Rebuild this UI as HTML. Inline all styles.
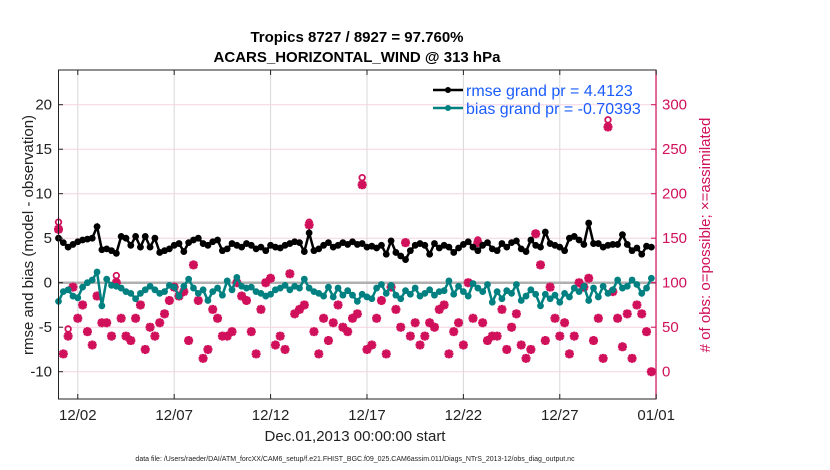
<!DOCTYPE html>
<html><head><meta charset="utf-8"><style>
body{margin:0;background:#fff;}
svg{display:block;font-family:"Liberation Sans",Arial,sans-serif;}
</style></head><body>
<svg id="chart" width="830" height="470" viewBox="0 0 830 470" xmlns="http://www.w3.org/2000/svg">
<g id="grid"></g>
<g id="series"></g>
<rect x="58.5" y="70" width="597.5" height="329" fill="none" stroke="#222" stroke-width="1"/>
<line x1="656" y1="70" x2="656" y2="399" stroke="#d0105a" stroke-width="1.2"/>
<g id="axes"></g>
<text x="357" y="42" text-anchor="middle" font-size="15" font-weight="bold">Tropics 8727 / 8927 = 97.760%</text>
<text x="357" y="62" text-anchor="middle" font-size="15" font-weight="bold">ACARS_HORIZONTAL_WIND @ 313 hPa</text>
<text x="355" y="441" text-anchor="middle" font-size="15" fill="#222">Dec.01,2013 00:00:00 start</text>
<text x="355" y="461" text-anchor="middle" font-size="7" fill="#222">data file: /Users/raeder/DAI/ATM_forcXX/CAM6_setup/f.e21.FHIST_BGC.f09_025.CAM6assim.011/Diags_NTrS_2013-12/obs_diag_output.nc</text>
<text transform="translate(33,235) rotate(-90)" text-anchor="middle" font-size="15" fill="#222">rmse and bias (model - observation)</text>
<text transform="translate(710,235) rotate(-90)" text-anchor="middle" font-size="15" fill="#d0105a"># of obs: o=possible; ×=assimilated</text>
<g>
<line x1="433" y1="90" x2="463" y2="90" stroke="#000" stroke-width="2.5"/>
<circle cx="448" cy="90" r="3" fill="#000"/>
<text x="466" y="96" font-size="16" fill="#1a5cff">rmse grand pr = 4.4123</text>
<line x1="433" y1="108" x2="463" y2="108" stroke="#008080" stroke-width="2.5"/>
<circle cx="448" cy="108" r="3" fill="#008080"/>
<text x="466" y="114" font-size="16" fill="#1a5cff">bias grand pr = -0.70393</text>
</g>
</svg>
<script>
const rmse=[5.0,4.5,4.0,4.3, 4.6,4.8,4.9,5.0, 6.3,3.7,3.8,3.6, 3.3,5.2,5.0,4.2, 5.2,4.0,5.2,4.0, 5.0,3.4,3.6,3.8, 4.2,4.4,3.5,4.5, 4.8,5.0,4.4,4.2, 4.6,4.8,3.6,3.8, 4.4,4.2,4.0,4.4, 4.2,3.8,4.0,3.6, 4.2,4.0,3.9,4.2, 4.4,4.6,4.5,3.5, 5.6,3.6,3.8,4.2, 4.5,4.0,4.2,4.5, 4.3,4.6,4.3,4.4, 4.0,4.1,3.9,4.2, 3.2,4.7,3.4,3.0, 2.6,3.6,4.2,4.4, 4.2,3.2,4.4,3.9, 4.2,4.0,3.4,3.9, 4.3,4.6,4.0,3.6, 4.2,4.5,3.8,3.6, 4.4,4.0,4.5,4.7, 3.8,3.5,4.8,4.2, 4.0,5.7,4.4,4.2, 4.0,3.6,5.0,5.2, 4.8,4.3,6.7,4.4, 4.4,4.0,4.2,4.3, 4.3,5.4,4.3,3.6, 3.9,3.2,4.1,4.0];
const bias=[-2.1,-1.0,-0.8,-1.5, -1.7,-0.5,0.0,0.3, 1.2,-2.6,0.4,-0.3, -0.4,-0.6,-1.0,-1.2, -1.8,-1.2,-0.8,-0.4, -0.8,-1.2,-1.0,-0.3, -0.5,-1.5,-0.4,0.4, -0.6,-1.2,-0.8,-2.0, -1.0,-0.6,-1.4,0.2, -0.8,0.6,-0.4,-0.6, -0.5,-1.0,-1.2,-1.5, -1.3,-0.8,-0.6,-0.3, -0.8,-0.4,-0.6,0.4, -0.6,-1.0,-1.2,-1.5, -0.5,-1.6,-0.6,-1.4, -0.9,-1.4,-2.1,-1.3, -1.6,-1.8,-0.6,-0.2, -1.2,-0.3,-1.4,-1.8, -0.9,-1.3,-0.6,-1.5, -1.2,-0.8,-1.4,-1.0, -0.9,0.2,-1.3,-0.4, -1.0,-1.5,-0.1,-0.6, -1.0,-0.2,-2.2,-1.0, -1.8,-0.9,-1.2,-0.2, -2.0,-1.5,-0.8,-1.3, -2.6,-1.3,-1.8,-1.4, -2.2,-1.2,-1.6,-0.6, -1.0,-0.4,-2.0,-0.6, -1.6,-0.4,-1.2,-0.8, 0.3,-0.6,-0.4,0.3, -0.2,-1.2,-0.6,0.5];
const nAssim=[160,20,40,95, 60,75,45,30, 85,55,55,40, 100,60,40,35, 60,75,25,50, 40,55,65,80, 95,85,90,35, 120,80,15,25, 70,60,40,40, 45,100,85,80, 45,20,70,100, 105,30,40,25, 110,65,70,75, 165,45,20,60, 35,55,75,50, 45,60,65,210, 25,30,60,80, 20,95,70,50, 145,40,55,30, 40,55,50,70, 75,20,45,55, 30,100,60,145, 55,35,40,40, 70,25,50,65, 30,15,25,155, 120,35,95,60, 40,55,20,40, 100,95,105,35, 60,15,275,90, 60,28,65,15, 75,65,45,0];
const nPoss=[168,20,48,95, 60,75,45,30, 85,55,55,40, 108,60,40,35, 60,75,25,50, 40,55,65,80, 95,85,90,35, 120,80,15,25, 70,60,40,40, 45,100,85,80, 45,20,70,100, 105,30,40,25, 110,65,70,75, 168,45,20,60, 35,55,75,50, 45,60,65,218, 25,30,60,80, 20,95,70,50, 145,40,55,30, 40,55,50,70, 75,20,45,55, 30,100,60,148, 55,35,40,40, 70,25,50,65, 30,15,25,155, 120,35,95,60, 40,55,20,40, 100,95,105,35, 60,15,283,90, 60,28,65,15, 75,65,45,0];
const xTickLabels=["12/02","12/07","12/12","12/17","12/22","12/27","01/01"];
const xTickDays=[1,6,11,16,21,26,31];
const yTicks=[-10,-5,0,5,10,15,20];
const rTicks=[0,50,100,150,200,250,300];
const stepDays=0.25;

const NS="http://www.w3.org/2000/svg";
const X0=58.5, PXD=19.28;
function xs(d){return X0+d*PXD;}
function ys(v){return 282.7-v*8.9;}
function yr(n){return 371.7-n*0.89;}
function mk(tag,attrs,parent){const e=document.createElementNS(NS,tag);for(const k in attrs)e.setAttribute(k,attrs[k]);parent.appendChild(e);return e;}
const grid=document.getElementById('grid'),axes=document.getElementById('axes'),ser=document.getElementById('series');

xTickDays.forEach((d,i)=>{
  const g=mk('line',{x1:xs(d),x2:xs(d),y1:70,y2:399,stroke:'#d8d8d8','stroke-width':1},grid);
  
  
  const t=mk('line',{x1:xs(d),x2:xs(d),y1:399,y2:394,stroke:'#222'},axes);
  
  
  const t2=mk('line',{x1:xs(d),x2:xs(d),y1:70,y2:75,stroke:'#222'},axes);
  
  
  const l=mk('text',{x:xs(d),y:420,'text-anchor':'middle','font-size':15,fill:'#222'},axes);
  l.textContent=xTickLabels[i];
  
  
});
yTicks.forEach(v=>{
  if(v!==0){const g=mk('line',{x1:58.5,x2:656,y1:ys(v),y2:ys(v),stroke:'#f6d3e0','stroke-width':1},grid);
  
  }
  const t=mk('line',{x1:58.5,x2:63,y1:ys(v),y2:ys(v),stroke:'#222'},axes);
  
  
  const l=mk('text',{x:52,y:ys(v)+5,'text-anchor':'end','font-size':15,fill:'#222'},axes);
  l.textContent=v;
  
  
});
rTicks.forEach(n=>{
  const t=mk('line',{x1:651,x2:656,y1:yr(n),y2:yr(n),stroke:'#d0105a'},axes);
  
  
  const l=mk('text',{x:662,y:yr(n)+5,'font-size':15,fill:'#d0105a'},axes);
  l.textContent=n;
  
  
});
const zl=mk('line',{x1:58.5,x2:656,y1:ys(0),y2:ys(0),stroke:'#b0b0b0','stroke-width':2.5},grid);



// obs counts
nPoss.forEach((n,i)=>{
  const c=mk('circle',{cx:xs(i*stepDays),cy:yr(n),r:2.8,fill:'none',stroke:'#d0105a','stroke-width':1.8},ser);
  
  
});
nAssim.forEach((n,i)=>{
  const x=xs(i*stepDays),y=yr(n);
  const p=mk('path',{d:`M${x-4.5},${y}H${x+4.5}M${x},${y-4.5}V${y+4.5}M${x-3.3},${y-3.3}L${x+3.3},${y+3.3}M${x-3.3},${y+3.3}L${x+3.3},${y-3.3}`,stroke:'#d0105a','stroke-width':2.8,fill:'none'},ser);
  
  
});
function drawLine(arr,color,name){
  const pts=arr.map((v,i)=>xs(i*stepDays)+','+ys(v)).join(' ');
  const pl=mk('polyline',{points:pts,fill:'none',stroke:color,'stroke-width':2.5},ser);
  
  
  arr.forEach((v,i)=>{
    const c=mk('circle',{cx:xs(i*stepDays),cy:ys(v),r:3.4,fill:color},ser);
    
    
  });
}
drawLine(bias,'#008080','bias');
drawLine(rmse,'#000000','rmse');
</script>
</body></html>
